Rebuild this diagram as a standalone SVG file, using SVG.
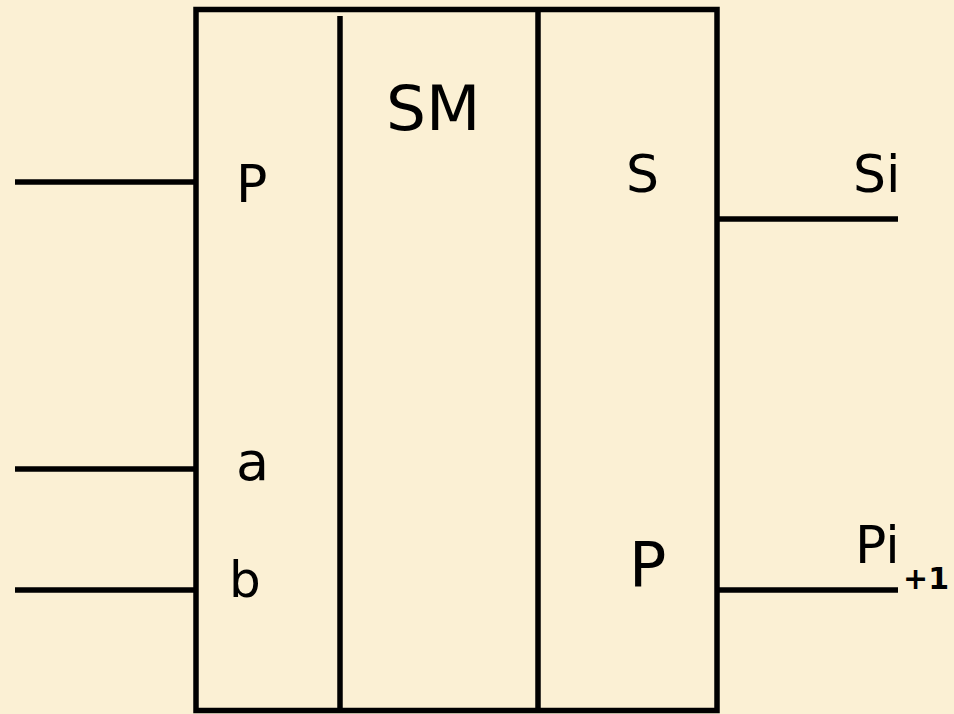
<svg xmlns="http://www.w3.org/2000/svg" width="954" height="714" viewBox="0 0 954 714">
<style>
.ln{stroke:#000;stroke-width:5.5;fill:none;stroke-linecap:butt}
.t{font-family:"DejaVu Sans","Liberation Sans",sans-serif;fill:#000}
</style>
<rect x="0" y="0" width="954" height="714" fill="#FBF0D4"/>
<g id="block">
<rect x="196" y="9.5" width="521" height="701" class="ln"/>
<line x1="340" y1="16" x2="340" y2="711" class="ln"/>
<line x1="538" y1="9.5" x2="538" y2="711" class="ln"/>
</g>
<g id="connectors">
<line x1="15" y1="182" x2="196" y2="182" class="ln"/>
<line x1="15" y1="469" x2="196" y2="469" class="ln"/>
<line x1="15" y1="590" x2="196" y2="590" class="ln"/>
<line x1="717" y1="219" x2="898" y2="219" class="ln"/>
<line x1="717" y1="590" x2="898" y2="590" class="ln"/>
</g>
<g id="labels">
<text class="t" x="236" y="202" font-size="52">P</text>
<text class="t" x="386" y="130" font-size="63">SM</text>
<text class="t" x="626" y="192" font-size="52">S</text>
<text class="t" x="853" y="192" font-size="52">Si</text>
<text class="t" x="236" y="480" font-size="54">a</text>
<text class="t" x="229" y="597" font-size="50">b</text>
<text class="t" x="629" y="586" font-size="62">P</text>
<text class="t" x="855" y="563" font-size="52">Pi</text>
<text class="t" x="903" y="589" font-size="30" font-weight="bold">+1</text>
</g>
</svg>
